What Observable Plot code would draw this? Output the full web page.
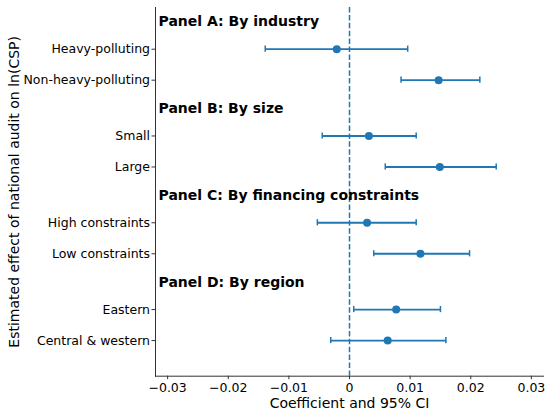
<!DOCTYPE html>
<html>
<head>
<meta charset="utf-8">
<script src="https://cdn.jsdelivr.net/npm/d3@7"></script>
<script src="https://cdn.jsdelivr.net/npm/@observablehq/plot@0.6"></script>
<style>
  html, body { margin: 0; padding: 0; background: white; }
  #chart { width: 550px; height: 415px; }
</style>
</head>
<body>
<div id="chart"></div>
<script>
// ---- data ----
const panels = ["Panel A: By industry", "Panel B: By size", "Panel C: By financing constraints", "Panel D: By region"];
const labels = ["Heavy-polluting", "Non-heavy-polluting", "Small", "Large", "High constraints", "Low constraints", "Eastern", "Central & western"];
const panelOf = [0, 0, 1, 1, 2, 2, 3, 3];
const coef  = [-0.0021, 0.0147, 0.0032, 0.0149, 0.0029, 0.0117, 0.0077, 0.0063];
const lower = [-0.0139, 0.0085, -0.0045, 0.0059, -0.0053, 0.0040, 0.0007, -0.0031];
const upper = [ 0.0096, 0.0215,  0.0110, 0.0242,  0.0110, 0.0198, 0.0150,  0.0159];
const xTicks = [-0.03, -0.02, -0.01, 0, 0.01, 0.02, 0.03];
const xLabel = "Coefficient and 95% CI";
const yLabel = "Estimated effect of national audit on ln(CSP)";

// ---- layout (row positions in y units) ----
const panelStep = 2.8, headerOffset = -0.88;
const counts = {};
const rows = labels.map((label, i) => {
  const p = panelOf[i];
  const k = counts[p] = (counts[p] ?? -1) + 1;
  return {label, coef: coef[i], lo: lower[i], hi: upper[i], pos: p * panelStep + k};
});
const headers = panels.map((name, p) => ({name, pos: p * panelStep + headerOffset}));
const labelAt = new Map(rows.map(r => [r.pos, r.label]));

const blue = "#1f77b4";
const fmt = d => d === 0 ? "0" : (d < 0 ? "\u2212" : "") + Math.abs(d).toFixed(2);

const chart = Plot.plot({
  width: 550,
  height: 415,
  marginLeft: 155,
  marginRight: 7,
  marginTop: 7,
  marginBottom: 39.3,
  style: {fontFamily: "DejaVu Sans", fontSize: "12.5px", color: "black", background: "white"},
  x: {domain: [-0.032, 0.032]},
  y: {domain: [-1.345, 10.55], reverse: true},
  marks: [
    Plot.frame({anchor: "left", stroke: "#333", strokeWidth: 1}),
    Plot.frame({anchor: "bottom", stroke: "#333", strokeWidth: 1}),
    Plot.axisX({ticks: xTicks, tickFormat: fmt, tickSize: 3.5, tickPadding: 3.3, label: null, stroke: "#333"}),
    Plot.axisY({ticks: rows.map(r => r.pos), tickFormat: d => labelAt.get(d), tickSize: 3.5, tickPadding: 2, label: null, stroke: "#333"}),
    Plot.ruleX([0], {stroke: blue, strokeWidth: 1.5, strokeDasharray: "5.5,2.4"}),
    Plot.link(rows, {x1: "lo", x2: "hi", y1: "pos", y2: "pos", stroke: blue, strokeWidth: 1.8}),
    Plot.ruleX(rows, {x: "lo", y1: d => d.pos - 0.1, y2: d => d.pos + 0.1, stroke: blue, strokeWidth: 1.5}),
    Plot.ruleX(rows, {x: "hi", y1: d => d.pos - 0.1, y2: d => d.pos + 0.1, stroke: blue, strokeWidth: 1.5}),
    Plot.dot(rows, {x: "coef", y: "pos", r: 4, fill: blue}),
    Plot.text(headers, {y: "pos", text: "name", frameAnchor: "left", dx: 3, textAnchor: "start", fontWeight: "bold", fontSize: 14, fill: "black"}),
    Plot.text([xLabel], {frameAnchor: "bottom", lineAnchor: "middle", textAnchor: "middle", dy: 27.3, fontSize: 14, fill: "black"}),
    Plot.text([yLabel], {frameAnchor: "left", lineAnchor: "middle", textAnchor: "middle", rotate: -90, dx: -141.2, fontSize: 14, fill: "black"})
  ]
});
document.getElementById("chart").append(chart);
</script>
</body>
</html>
